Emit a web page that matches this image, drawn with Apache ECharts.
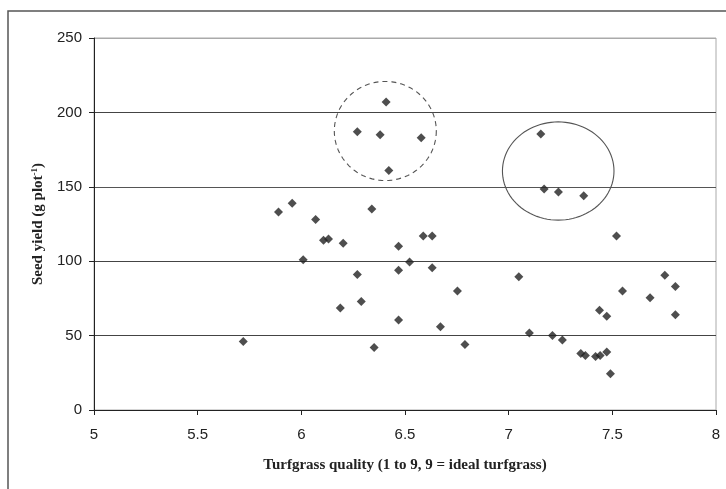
<!DOCTYPE html>
<html>
<head>
<meta charset="utf-8">
<script src="https://cdn.jsdelivr.net/npm/echarts@6/dist/echarts.min.js"></script>
<style>
html,body{margin:0;padding:0;background:#fff;}
#chart{width:726px;height:489px;}
</style>
</head>
<body>
<div id="chart"></div>
<script>
// Turfgrass quality (x) vs seed yield (y)
var qualityValues = [5.72,5.89,5.956,6.009,6.069,6.107,6.131,6.188,6.202,6.27,6.27,6.289,6.34,6.351,6.38,6.409,6.422,6.469,6.469,6.469,6.522,6.578,6.588,6.631,6.631,6.671,6.753,6.789,7.049,7.10,7.155,7.171,7.211,7.24,7.259,7.348,7.362,7.37,7.419,7.438,7.441,7.473,7.473,7.491,7.52,7.549,7.682,7.753,7.804,7.804];
var yieldValues = [46,133,139,101,128,114,115,68.5,112,187,91,73,135,42,185,207,161,110,94,60.5,99.5,183,117,117,95.6,56,80,44,89.6,51.7,185.5,148.5,50,146.5,47,38,144,36.7,36,67,36.7,63,39,24.4,117,80,75.5,90.5,83,64];
var xTicks = [5,5.5,6,6.5,7,7.5,8];
var yTicks = [0,50,100,150,200,250];
// annotation ellipses: [centerX, centerY, radiusX, radiusY] in data units
var dashedEllipse = [[6.405,187.5,0.246,33.3]];
var solidEllipse = [[7.239,160.6,0.269,33]];

var points = qualityValues.map(function(x,i){return [x, yieldValues[i]];});

function ellipseRenderer(dashed){
  return function(params, api){
    var c = api.coord([api.value(0), api.value(1)]);
    var s = api.size([api.value(2), api.value(3)]);
    var pts = [];
    for (var i=0;i<96;i++){
      var a = i/96*Math.PI*2;
      pts.push([c[0]+s[0]*Math.cos(a), c[1]+s[1]*Math.sin(a)]);
    }
    return {type:'polygon', shape:{points:pts}, style:{fill:'none', stroke:'#555', lineWidth:1.1, lineDash: dashed?[5,4]:null}};
  };
}

var chart = echarts.init(document.getElementById('chart'));
chart.setOption({
  animation:false,
  backgroundColor:'#fff',
  graphic:[{type:'rect', shape:{x:8,y:11,width:900,height:700}, style:{fill:'none', stroke:'#555', lineWidth:1.5}, silent:true}],
  grid:{left:94, right:10, top:38, bottom:79, show:true, borderColor:'#aaa', borderWidth:1, backgroundColor:'transparent'},
  xAxis:{
    type:'value', min:xTicks[0], max:xTicks[xTicks.length-1], interval:0.5,
    name:'Turfgrass quality (1 to 9, 9 = ideal turfgrass)', nameLocation:'middle', nameGap:48,
    nameTextStyle:{fontFamily:'Liberation Serif', fontWeight:'bold', fontSize:15, color:'#222'},
    axisLine:{show:true, onZero:false, lineStyle:{color:'#222', width:1}},
    axisTick:{show:true, length:5, lineStyle:{color:'#222'}},
    axisLabel:{fontFamily:'Liberation Sans', fontSize:15, color:'#222', margin:17},
    splitLine:{show:false}
  },
  yAxis:{
    type:'value', min:yTicks[0], max:yTicks[yTicks.length-1], interval:50,
    name:'Seed yield (g plot{sup|-1})', nameLocation:'middle', nameGap:46,
    nameTextStyle:{fontFamily:'Liberation Serif', fontWeight:'bold', fontSize:15, color:'#222',
      rich:{sup:{fontFamily:'Liberation Serif', fontWeight:'bold', fontSize:9, color:'#222', verticalAlign:'top', padding:[0,0,8,0]}}},
    axisLine:{show:true, onZero:false, lineStyle:{color:'#222', width:1}},
    axisTick:{show:true, length:5, lineStyle:{color:'#222'}},
    axisLabel:{fontFamily:'Liberation Sans', fontSize:15, color:'#222', margin:12},
    splitLine:{show:true, lineStyle:{color:['#333','#444','#444','#555','#444','#aaa'], width:1}}
  },
  series:[
    {type:'scatter', data:points, symbol:'diamond', symbolSize:9, itemStyle:{color:'#222'}, z:5},
    {type:'custom', data:dashedEllipse, renderItem:ellipseRenderer(true), silent:true, z:3},
    {type:'custom', data:solidEllipse, renderItem:ellipseRenderer(false), silent:true, z:3}
  ]
});
</script>
</body>
</html>
